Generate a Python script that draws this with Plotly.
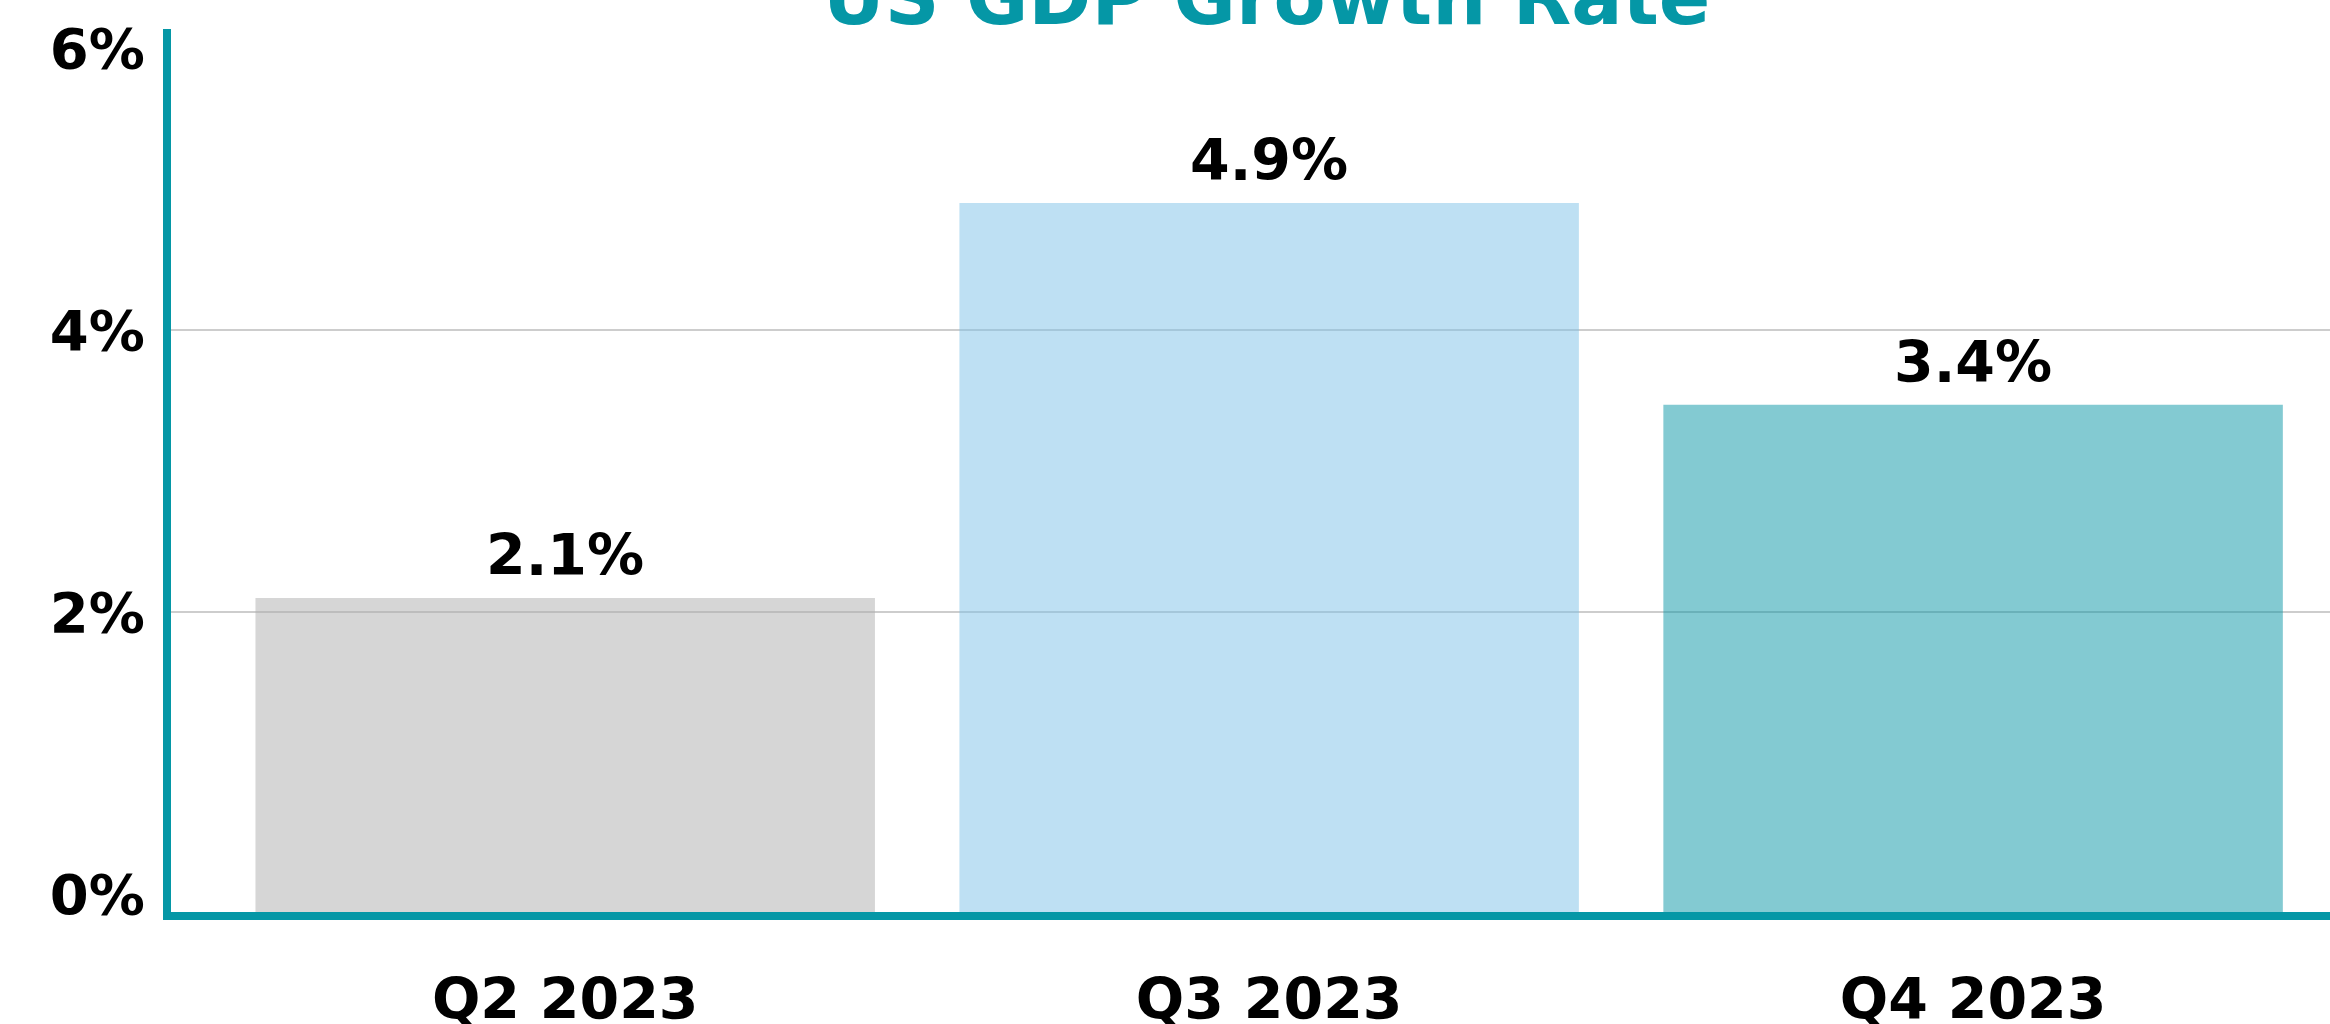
import plotly.graph_objects as go

# ---- data ----
categories = ["Q2 2023", "Q3 2023", "Q4 2023"]
growth = [2.1, 4.9, 3.47]
value_labels = ["2.1%", "4.9%", "3.4%"]
y_ticks = [0, 2, 4, 6]
y_tick_text = ["0%", "2%", "4%", "6%"]
grid_ticks = [2, 4]

# ---- styles ----
TEAL = "#0597A6"
bar_colors = ["rgba(173,173,173,0.5)", "rgba(125,193,231,0.5)", "rgba(7,150,166,0.5)"]
FONT = "DejaVu Sans"
Y_MIN, Y_MAX = -0.128, 6.135

fig = go.Figure()
fig.add_trace(go.Bar(
    x=categories,
    y=[v - Y_MIN for v in growth],
    base=Y_MIN,
    marker=dict(color=bar_colors, line=dict(width=0)),
    hoverinfo="skip",
))

for c, v, t in zip(categories, growth, value_labels):
    fig.add_annotation(x=c, y=v, text=t, showarrow=False, yanchor="bottom",
                       yshift=8, font=dict(family=FONT, size=57, color="black", weight="bold"))

for g in grid_ticks:
    fig.add_shape(type="line", xref="paper", x0=0, x1=1, yref="y", y0=g, y1=g,
                  line=dict(color="#CDCDCD", width=2), layer="below")

fig.add_annotation(text="US GDP Growth Rate", xref="paper", yref="paper",
                   x=0.5076, y=1, xanchor="center", yanchor="bottom", yshift=-15,
                   showarrow=False,
                   font=dict(family=FONT, size=76, color=TEAL, weight="bold"))

fig.update_layout(
    width=2330, height=1024,
    margin=dict(l=171, r=0, t=29, b=112, autoexpand=False),
    paper_bgcolor="white", plot_bgcolor="white",
    showlegend=False, bargap=0.12,
    xaxis=dict(range=[-0.56, 2.507], showline=True, linecolor=TEAL, linewidth=8,
               showgrid=False, zeroline=False, ticks="", ticklabelstandoff=31,
               automargin=False,
               tickfont=dict(family=FONT, size=57, color="black", weight="bold")),
    yaxis=dict(range=[Y_MIN, Y_MAX], showline=True, linecolor=TEAL, linewidth=8,
               showgrid=False, zeroline=False, ticks="", automargin=False,
               tickvals=y_ticks, ticktext=y_tick_text, ticklabelstandoff=7,
               tickfont=dict(family=FONT, size=56, color="black", weight="bold")),
)

fig.write_html("out.html", config={"displayModeBar": False},
               post_script="document.body.style.margin='0';document.body.style.overflow='hidden';")
